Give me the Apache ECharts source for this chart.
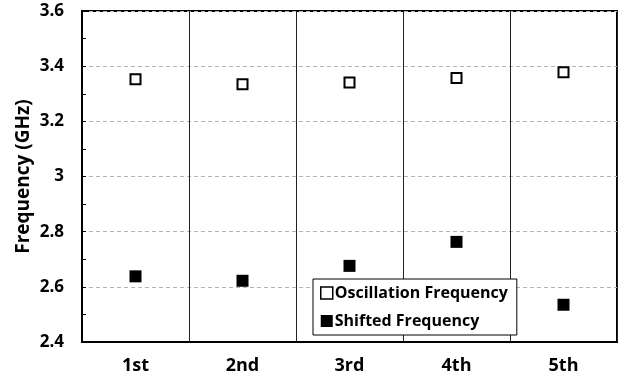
<!DOCTYPE html>
<html>
<head>
<meta charset="utf-8">
<script src="https://cdn.jsdelivr.net/npm/echarts@6/dist/echarts.min.js"></script>
<style>
  html, body { margin: 0; padding: 0; background: #fff; }
  #chart { width: 623px; height: 379px; }
</style>
</head>
<body>
<div id="chart"></div>
<script>
// Measurement runs and the two measured frequencies (GHz)
const runs = ['1st', '2nd', '3rd', '4th', '5th'];
const oscillationFreq = [3.353, 3.334, 3.341, 3.357, 3.378];
const shiftedFreq = [2.638, 2.622, 2.676, 2.763, 2.535];
const yTicks = { min: 2.4, max: 3.6, step: 0.2 };

const FONT = '"Open Sans"';
const chart = echarts.init(document.getElementById('chart'), null, { renderer: 'canvas' });

chart.setOption({
  animation: false,
  backgroundColor: '#fff',
  textStyle: { fontFamily: FONT, color: '#000', fontWeight: 'bold' },
  grid: {
    left: 82, right: 6, top: 11, bottom: 37,
    show: true, borderColor: '#000', borderWidth: 2, backgroundColor: 'transparent'
  },
  legend: {
    orient: 'vertical',
    left: 313, top: 279,
    backgroundColor: '#fff',
    borderColor: '#000', borderWidth: 1, borderRadius: 0,
    padding: [4, 9, 4, 7],
    itemGap: 8,
    itemWidth: 12, itemHeight: 12,
    textStyle: { fontFamily: FONT, fontSize: 16, fontWeight: 'bold', color: '#000', padding: [0, 0, 0, -3], lineHeight: 20 },
    data: [
      { name: 'Oscillation Frequency', icon: 'rect',
        itemStyle: { color: '#fff', borderColor: '#000', borderWidth: 1.5 } },
      { name: 'Shifted Frequency', icon: 'rect',
        itemStyle: { color: '#000', borderColor: '#000', borderWidth: 0 } }
    ]
  },
  xAxis: {
    type: 'category',
    data: runs,
    boundaryGap: true,
    axisLine: { lineStyle: { color: '#000', width: 2 } },
    axisTick: { show: false },
    axisLabel: { fontFamily: FONT, fontSize: 18, fontWeight: 'bold', color: '#000', margin: 15 },
    splitLine: { show: true, lineStyle: { color: '#222', width: 1 } }
  },
  yAxis: {
    type: 'value',
    min: yTicks.min, max: yTicks.max, interval: yTicks.step,
    name: 'Frequency (GHz)',
    nameLocation: 'middle',
    nameGap: 49,
    nameMoveOverlap: false,
    nameTextStyle: { fontFamily: FONT, fontSize: 19, fontWeight: 'bold', color: '#000' },
    axisLine: { show: true, lineStyle: { color: '#000', width: 2 } },
    axisTick: { show: true, inside: true, length: 4, lineStyle: { color: '#000' } },
    minorTick: { show: true, splitNumber: 2, length: 4, lineStyle: { color: '#000' } },
    axisLabel: {
      fontFamily: FONT, fontSize: 17, fontWeight: 'bold', color: '#000', margin: 18,
      formatter: v => String(+v.toFixed(1))
    },
    splitLine: { show: true, lineStyle: { color: '#b4b4b4', type: [4, 3], width: 1 } }
  },
  series: [
    {
      name: 'Oscillation Frequency',
      type: 'scatter',
      symbol: 'rect',
      symbolSize: 10,
      itemStyle: { color: '#fff', borderColor: '#000', borderWidth: 2, opacity: 1 },
      data: oscillationFreq,
      z: 3
    },
    {
      name: 'Shifted Frequency',
      type: 'scatter',
      symbol: 'rect',
      symbolSize: 12,
      itemStyle: { color: '#000', opacity: 1 },
      data: shiftedFreq,
      z: 3
    }
  ]
});
</script>
</body>
</html>
